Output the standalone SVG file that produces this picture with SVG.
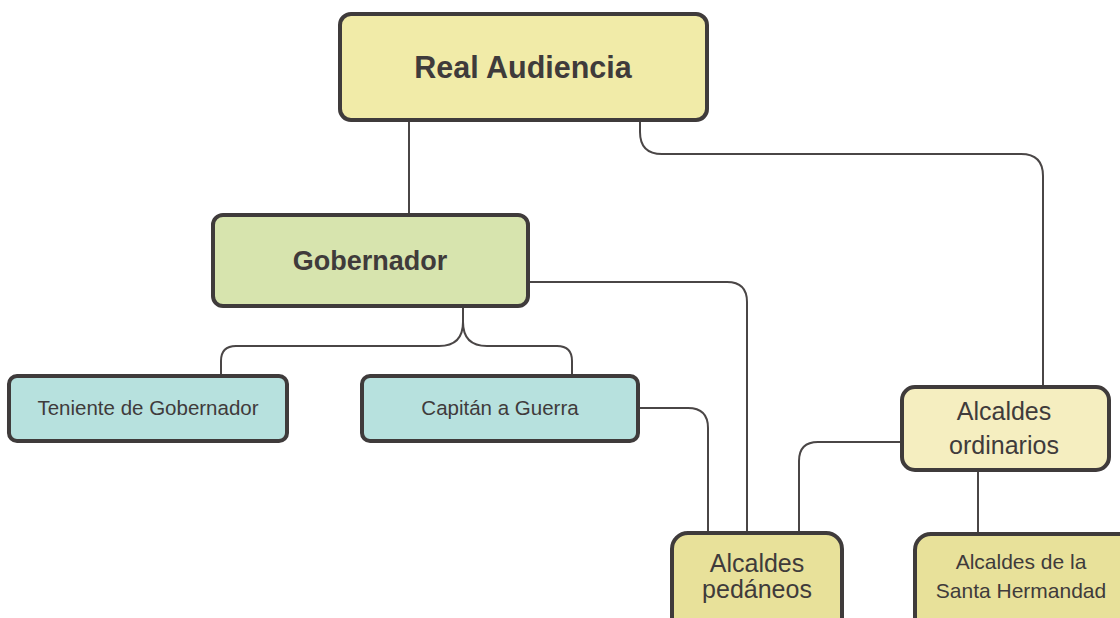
<svg xmlns="http://www.w3.org/2000/svg" width="1120" height="618" viewBox="0 0 1120 618">
<style>
.box{stroke:#3f3b3b;stroke-width:4}
.t{font-family:"Liberation Sans",Arial,sans-serif;fill:#3f3b3b;text-anchor:middle}
.b{font-weight:bold}
.c{fill:none;stroke:#4a4646;stroke-width:2}
</style>
<rect width="1120" height="618" fill="#ffffff"/>
<g id="connectors">
<path class="c" d="M409,121 V214"/>
<path class="c" d="M640,121 V132 Q640,154 662,154 H1021 Q1043,154 1043,176 V386"/>
<path class="c" d="M463,307 V322 Q463,346 439,346 H236 Q221,346 221,361 V376"/>
<path class="c" d="M463,322 Q463,346 487,346 H557 Q572,346 572,361 V376"/>
<path class="c" d="M528,282 H727 Q747,282 747,302 V532"/>
<path class="c" d="M638,408 H688 Q708,408 708,428 V532"/>
<path class="c" d="M901,442 H818 Q799,442 799,461 V532"/>
<path class="c" d="M978,471 V534"/>
</g>
<g id="real-audiencia">
<rect class="box" x="340" y="14" width="367" height="106" rx="11" fill="#f1eba8"/>
<text class="t b" x="523" y="78" font-size="30.5">Real Audiencia</text>
</g>
<g id="gobernador">
<rect class="box" x="213" y="215" width="315" height="91" rx="10" fill="#d7e4ae"/>
<text class="t b" x="370" y="270" font-size="27">Gobernador</text>
</g>
<g id="teniente">
<rect class="box" x="9" y="376" width="278" height="65" rx="8" fill="#b7e1de"/>
<text class="t" x="148" y="415" font-size="20.5">Teniente de Gobernador</text>
</g>
<g id="capitan">
<rect class="box" x="362" y="376" width="276" height="65" rx="8" fill="#b7e1de"/>
<text class="t" x="500" y="415" font-size="20.5">Capitán a Guerra</text>
</g>
<g id="ordinarios">
<rect class="box" x="902" y="387" width="207" height="83" rx="13" fill="#f5eec0"/>
<text class="t" x="1004" y="420" font-size="25">Alcaldes</text>
<text class="t" x="1004" y="454" font-size="25">ordinarios</text>
</g>
<g id="pedaneos">
<rect class="box" x="672" y="533" width="170" height="110" rx="16" fill="#e8e19a"/>
<text class="t" x="757" y="572" font-size="25">Alcaldes</text>
<text class="t" x="757" y="598" font-size="25">pedáneos</text>
</g>
<g id="santa-hermandad">
<rect class="box" x="915" y="534" width="230" height="110" rx="16" fill="#e8e19a"/>
<text class="t" x="1021" y="569" font-size="21">Alcaldes de la</text>
<text class="t" x="1021" y="598" font-size="21">Santa Hermandad</text>
</g>
</svg>
